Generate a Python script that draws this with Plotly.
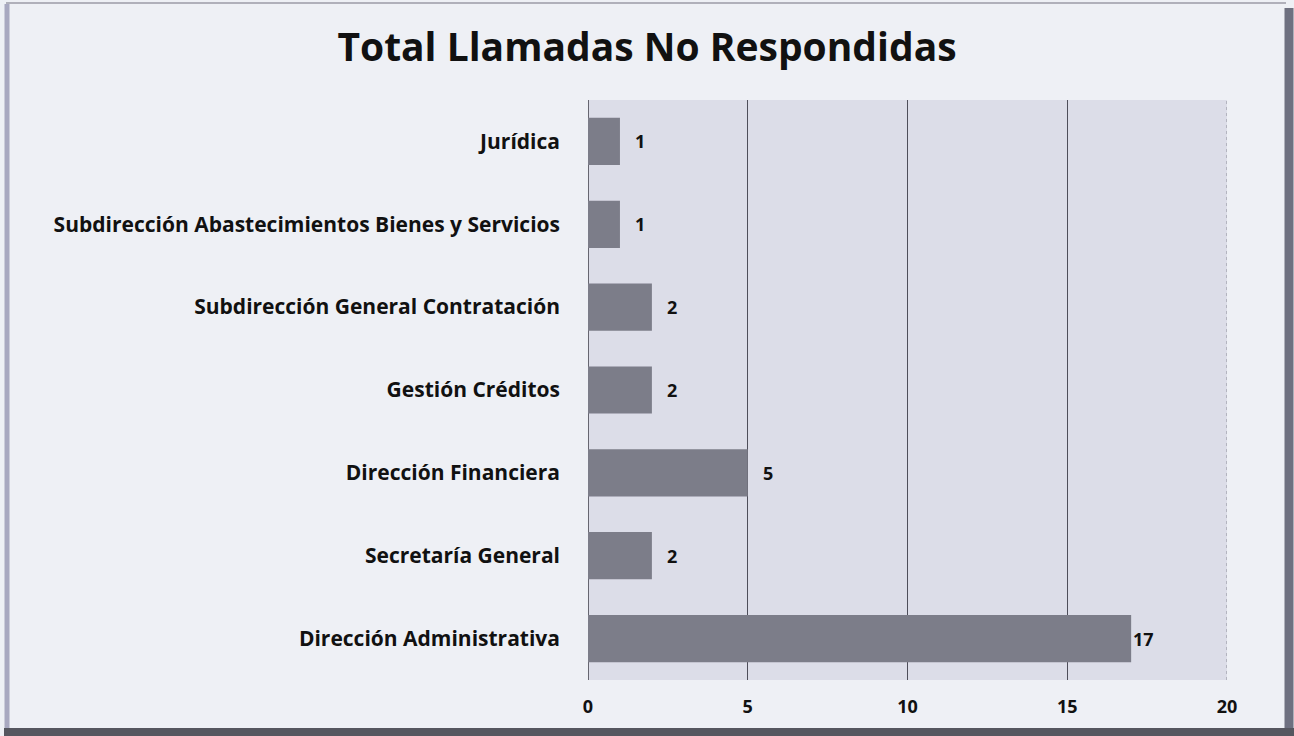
import plotly.graph_objects as go

categories = ["Dirección Administrativa", "Secretaría General", "Dirección Financiera",
              "Gestión Créditos", "Subdirección General Contratación",
              "Subdirección Abastecimientos Bienes y Servicios", "Jurídica"]
values = [17, 2, 5, 2, 2, 1, 1]
x_ticks = [0, 5, 10, 15, 20]
label_shifts = [0, 13, 13, 13, 13, 13, 13]  # pixel offsets of value labels (style)

FONT = "Open Sans"

fig = go.Figure(go.Bar(
    y=categories, x=values, orientation="h",
    marker=dict(color="#7c7d89", line=dict(width=0)),
    width=0.57,
    hoverinfo="x+y",
))

for c, v, s in zip(categories, values, label_shifts):
    fig.add_annotation(x=v, y=c, text=str(v), showarrow=False, xanchor="left",
                       xshift=s, font=dict(family=FONT, size=18, color="#111111", weight="bold"))

fig.update_layout(
    width=1294, height=736,
    margin=dict(l=588, r=67, t=100, b=56),
    paper_bgcolor="#eef0f5",
    plot_bgcolor="#dcdde8",
    title=dict(text="Total Llamadas No Respondidas", x=0.5, xanchor="center",
               y=0.935, yanchor="middle",
               font=dict(family=FONT, size=39, color="#111111", weight="bold")),
    xaxis=dict(range=[0, 20], tickvals=x_ticks, showgrid=True, gridcolor="#4e4e5a",
               gridwidth=1, zeroline=True, zerolinecolor="#666670", zerolinewidth=1,
               tickfont=dict(family=FONT, size=18, color="#111111", weight="bold"),
               ticklabelstandoff=14, fixedrange=True),
    yaxis=dict(tickfont=dict(family=FONT, size=21, color="#111111", weight="bold"),
               ticklabelstandoff=27,
               categoryorder="array", categoryarray=categories, fixedrange=True),
    showlegend=False,
)

# faint dotted gridline at the last tick (as in reference)
fig.add_shape(type="line", xref="x", yref="paper", x0=x_ticks[-1], x1=x_ticks[-1],
              y0=0, y1=1, line=dict(color="#8a8a96", width=1, dash="dot"))

pw, ph = 1294 - 588 - 67, 736 - 100 - 56
def px_x(p):
    return (p - 588) / pw
def px_y(p):
    return (736 - 56 - p) / ph

# page frame
fig.add_shape(type="line", xref="paper", yref="paper",
              x0=px_x(6), x1=px_x(1286), y0=px_y(3), y1=px_y(3),
              line=dict(color="#b0b0ba", width=2))
fig.add_shape(type="line", xref="paper", yref="paper",
              x0=px_x(7), x1=px_x(7), y0=px_y(4), y1=px_y(730),
              line=dict(color="#a8a8c0", width=5))
fig.add_shape(type="line", xref="paper", yref="paper",
              x0=px_x(1289), x1=px_x(1289), y0=px_y(8), y1=px_y(736),
              line=dict(color="#6e7080", width=9))
fig.add_shape(type="line", xref="paper", yref="paper",
              x0=px_x(4), x1=px_x(1294), y0=px_y(732), y1=px_y(732),
              line=dict(color="#55565f", width=8))

fig.write_html("out.html")
